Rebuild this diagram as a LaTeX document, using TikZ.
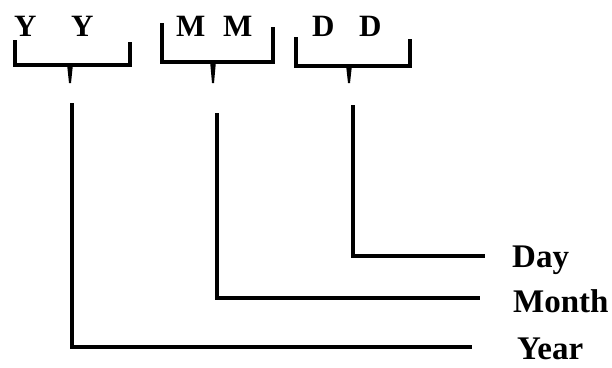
\documentclass[tikz,border=0pt]{standalone}
\usepackage{fontspec}
\setmainfont{Liberation Serif}
\begin{document}
\begin{tikzpicture}[x=1pt, y=-1pt,
  letter/.style={font=\fontsize{31}{31}\selectfont\bfseries, inner sep=0pt, anchor=base west},
  lab/.style={font=\fontsize{33}{33}\selectfont\bfseries, inner sep=0pt, anchor=base west},
  brk/.style={line width=3.5pt, line join=miter},
  conn/.style={line width=3.5pt, line join=miter}]
  \useasboundingbox (0,0) rectangle (612,367);

  % Buchstaben oben
  \node[letter] (y1) at (14,36) {Y};
  \node[letter] (y2) at (71,36) {Y};
  \node[letter] (m1) at (176,36) {M};
  \node[letter] (m2) at (223,36) {M};
  \node[letter] (d1) at (312,36) {D};
  \node[letter] (d2) at (359,36) {D};

  % Klammern mit Spitze
  \draw[brk] (15,40) -- (15,65) -- (130,65) -- (130,42);
  \fill (67,64) -- (73,64) -- (71,83) -- (69,83) -- cycle;
  \draw[brk] (162,23) -- (162,62) -- (273,62) -- (273,27);
  \fill (210,61) -- (216,61) -- (214,83) -- (212,83) -- cycle;
  \draw[brk] (296,37) -- (296,66) -- (410,66) -- (410,39);
  \fill (346,65) -- (352,65) -- (350,83) -- (348,83) -- cycle;

  % Beschriftungen rechts
  \node[lab] (day) at (512,267) {Day};
  \node[lab] (month) at (513,312) {Month};
  \node[lab] (year) at (517,359) {Year};

  % Anfangs- und Endpunkte der Linien
  \coordinate (dtop) at (353,105);
  \coordinate (dend) at (485,256);
  \coordinate (mtop) at (217,113);
  \coordinate (mend) at (480,298);
  \coordinate (ytop) at (72,103);
  \coordinate (yend) at (472,347);

  \draw[conn] (dtop) |- (dend);
  \draw[conn] (mtop) |- (mend);
  \draw[conn] (ytop) |- (yend);
\end{tikzpicture}
\end{document}
